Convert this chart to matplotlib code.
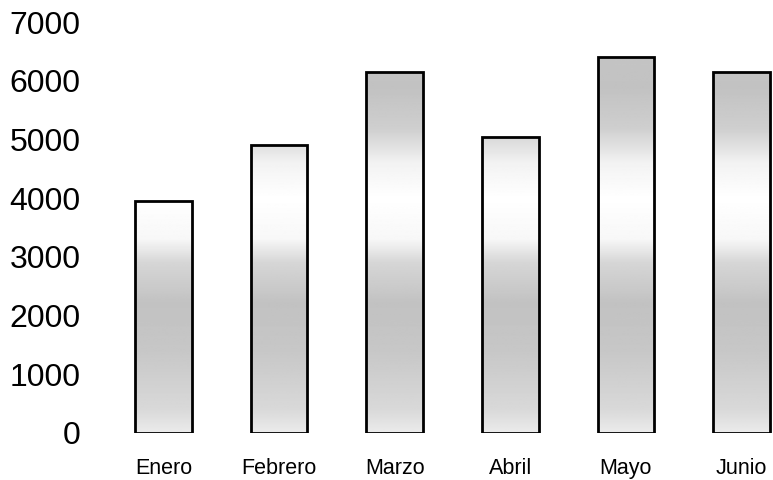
import numpy as np
import matplotlib
matplotlib.use("Agg")
import matplotlib.pyplot as plt

# Monthly values
months = ["Enero", "Febrero", "Marzo", "Abril", "Mayo", "Junio"]
values = [3950, 4900, 6150, 5050, 6400, 6150]
y_ticks = [0, 1000, 2000, 3000, 4000, 5000, 6000, 7000]

plt.rcParams["font.family"] = ["Liberation Sans", "DejaVu Sans"]

fig = plt.figure(figsize=(7.73, 4.8), dpi=100)
ax = fig.add_axes([0.1367, 0.098, 0.8633, 0.856])

x = np.arange(len(months))
bars = ax.bar(x, values, width=0.49, facecolor="none",
              edgecolor="black", linewidth=2.0, zorder=3)

# vertical grey shading (gray - white band - gray), same for all bars
ys = np.linspace(0, 7000, 400)
prof = np.interp(ys, [0, 400, 1400, 2200, 2900, 3300, 4000, 4600, 5200, 5900, 7000],
                 [0.92, 0.85, 0.78, 0.76, 0.84, 0.97, 1.0, 0.95, 0.81, 0.76, 0.78])
grad = np.repeat(prof[:, None], 2, axis=1)
for b in bars:
    im = ax.imshow(grad, extent=[-0.6, 5.4, 0, 7000], origin="lower",
                   cmap="gray", vmin=0, vmax=1, aspect="auto", zorder=2)
    im.set_clip_path(b)

ax.set_xlim(-0.5, 5.273)
ax.set_ylim(0, 7000)
ax.set_xticks(x)
ax.set_xticklabels(months, fontsize=15.5)
ax.set_yticks(y_ticks)
ax.set_yticklabels([str(v) for v in y_ticks], fontsize=23)
ax.tick_params(axis="y", length=0, pad=18)
ax.tick_params(axis="x", length=0, pad=18)
for s in ax.spines.values():
    s.set_visible(False)

fig.savefig("out.png", dpi=100, facecolor="white")
